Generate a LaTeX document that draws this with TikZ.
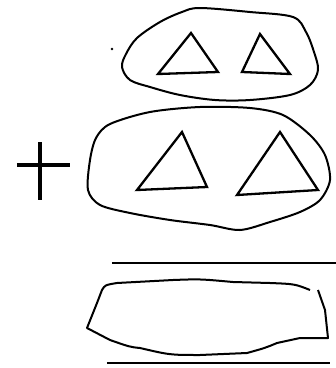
\documentclass[tikz,border=0pt]{standalone}
\begin{document}
\begin{tikzpicture}[x=1pt,y=-1pt,
  blob/.style={line width=2pt,line join=round},
  tri/.style={line width=2.3pt,line join=miter}]
  \useasboundingbox (0,0) rectangle (336,368);
  % top group
  \draw[blob] plot[smooth cycle,tension=0.55] coordinates {(200,8) (250,12) (293,17)
    (306,32) (314,52) (318,70) (310,85) (290,95) (250,100) (215,100) (180,95)
    (150,87) (130,80) (122,67) (126,54) (137,38) (160,22) (182,12)};
  \draw[tri] (191,33) -- (158,74) -- (218,72) -- cycle;
  \draw[tri] (260,34) -- (242,72) -- (290,74) -- cycle;
  \fill (112,49) circle (1.4);
  % plus
  \draw[line width=4.5pt] (40,142) -- (40,200);
  \draw[line width=3.5pt] (17,165) -- (70,165);
  % middle group
  \draw[blob] plot[smooth cycle,tension=0.5] coordinates {(110,124) (150,112) (200,107)
    (250,108) (283,115) (310,135) (325,155) (330,180) (320,200) (300,212)
    (270,222) (240,230) (210,225) (170,220) (130,213) (100,205) (88,190)
    (90,160) (96,138)};
  \draw[tri] (182,132) -- (137,190) -- (207,187) -- cycle;
  \draw[tri] (280,132) -- (237,195) -- (318,190) -- cycle;
  % lines
  \draw[line width=2pt] (112,263) -- (336,263);
  \draw[line width=2pt] (107,363) -- (330,363);
  % bottom blob
  \draw[blob] (310,290) .. controls (295,284) .. (270,283)
    -- (233,282) .. controls (200,279) .. (173,280)
    -- (117,283) .. controls (105,285) .. (102,290)
    -- (97,303) -- (87,328) -- (110,340)
    .. controls (130,347) .. (140,348)
    .. controls (170,355) .. (200,355) -- (247,353)
    .. controls (265,348) .. (277,343) -- (300,338) -- (328,338)
    -- (325,310) -- (318,290);
\end{tikzpicture}
\end{document}
